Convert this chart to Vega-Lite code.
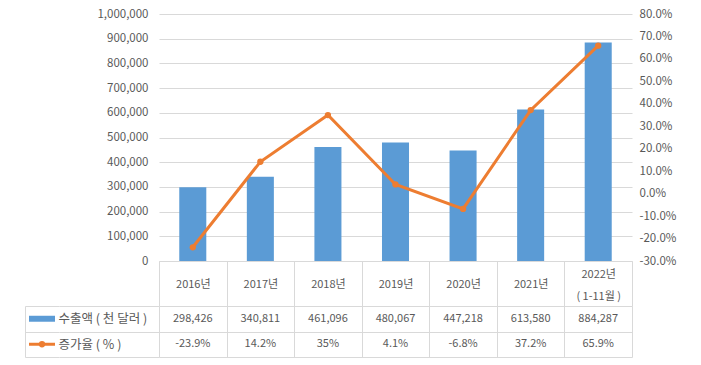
{
  "$schema": "https://vega.github.io/schema/vega-lite/v6.json",
  "padding": {"left": 23, "top": 8, "right": 5, "bottom": 5},
  "background": "white",
  "datasets": {
    "main": [
      {"year": "2016", "export": 298426, "growth": -0.239},
      {"year": "2017", "export": 340811, "growth": 0.142},
      {"year": "2018", "export": 461096, "growth": 0.35},
      {"year": "2019", "export": 480067, "growth": 0.041},
      {"year": "2020", "export": 447218, "growth": -0.068},
      {"year": "2021", "export": 613580, "growth": 0.372},
      {"year": "2022", "export": 884287, "growth": 0.659}
    ],
    "rows": [
      {"key": "export", "name": "수출액 ( 천 달러 )"},
      {"key": "growth", "name": "증가율 ( % )"}
    ]
  },
  "columns": 3,
  "bounds": "flush",
  "spacing": {"row": 45, "column": 0},
  "concat": [
    {"width": 34, "height": 247, "data": {"values": []}, "mark": "point", "encoding": {}},
    {"width": 100, "height": 247, "data": {"values": []}, "mark": "point", "encoding": {}},
    {
      "width": 473,
      "height": 247,
      "data": {"name": "main"},
      "encoding": {
        "x": {
          "field": "year", "type": "nominal", "sort": null,
          "scale": {"paddingInner": 0, "paddingOuter": 0},
          "axis": {
            "title": null, "labelAngle": 0, "tickBand": "extent", "tickSize": 45,
            "tickColor": "#d9d9d9", "domainColor": "#d9d9d9",
            "labelPadding": {"condition": {"test": "datum.value == '2022'", "value": -32}, "value": -22},
            "labelBaseline": "middle", "labelLineHeight": 22, "grid": false,
            "labelExpr": "datum.value == null ? '' : (datum.value == '2022' ? ['2022년', '( 1-11월 )'] : datum.value + '년')"
          }
        }
      },
      "layer": [
        {
          "mark": {"type": "bar", "color": "#5B9BD5", "width": {"band": 0.4}},
          "encoding": {
            "y": {
              "field": "export", "type": "quantitative",
              "scale": {"domain": [0, 1000000], "nice": false},
              "axis": {
                "title": null, "format": ",.0f", "values": [0, 100000, 200000, 300000, 400000, 500000, 600000, 700000, 800000, 900000, 1000000],
                "grid": true, "gridColor": "#d9d9d9", "domain": false, "ticks": false, "labelPadding": 11, "labelFontSize": 11.5
              }
            }
          }
        },
        {
          "mark": {"type": "line", "color": "#ED7D31", "strokeWidth": 3, "point": {"filled": true, "size": 40, "color": "#ED7D31", "opacity": 1}},
          "encoding": {
            "y": {
              "field": "growth", "type": "quantitative",
              "scale": {"domain": [-0.3, 0.8], "nice": false},
              "axis": {
                "title": null, "orient": "right", "format": ".1%",
                "values": [-0.3, -0.2, -0.1, 0, 0.1, 0.2, 0.3, 0.4, 0.5, 0.6, 0.7, 0.8],
                "grid": false, "domain": false, "ticks": false, "labelPadding": 7, "labelFontSize": 11.5
              }
            }
          }
        }
      ],
      "resolve": {"scale": {"y": "independent"}}
    },
    {
      "width": 34,
      "height": 51,
      "data": {"name": "rows"},
      "encoding": {
        "y": {
          "field": "key", "type": "nominal", "sort": null,
          "scale": {"domain": ["export", "growth"], "paddingInner": 0, "paddingOuter": 0},
          "axis": {"title": null, "labels": false, "ticks": false, "domain": true, "domainColor": "#d9d9d9", "grid": true, "gridColor": "#d9d9d9", "tickBand": "extent"}
        }
      },
      "layer": [
        {
          "transform": [{"filter": "datum.key == 'export'"}],
          "mark": {"type": "point", "shape": "M-1,-0.23L1,-0.23L1,0.23L-1,0.23Z", "size": 676, "filled": true, "color": "#5B9BD5", "opacity": 1}
        },
        {
          "transform": [{"filter": "datum.key == 'growth'"}],
          "mark": {"type": "point", "shape": "M-1,0L1,0", "size": 676, "filled": false, "color": "#ED7D31", "strokeWidth": 3, "opacity": 1}
        },
        {
          "transform": [{"filter": "datum.key == 'growth'"}],
          "mark": {"type": "point", "shape": "circle", "size": 40, "filled": true, "color": "#ED7D31", "opacity": 1}
        }
      ]
    },
    {
      "width": 100,
      "height": 51,
      "data": {"name": "rows"},
      "mark": {"type": "point", "opacity": 0},
      "encoding": {
        "y": {
          "field": "name", "type": "nominal", "sort": null,
          "scale": {"paddingInner": 0, "paddingOuter": 0},
          "axis": {"title": null, "ticks": false, "domain": false, "grid": true, "gridColor": "#d9d9d9", "tickBand": "extent", "labelAlign": "left", "labelPadding": 1, "labelFontSize": 12.5}
        }
      }
    },
    {
      "width": 473,
      "height": 51,
      "data": {"name": "main"},
      "transform": [{"fold": ["export", "growth"], "as": ["key", "value"]}],
      "encoding": {
        "x": {
          "field": "year", "type": "nominal", "sort": null,
          "scale": {"paddingInner": 0, "paddingOuter": 0},
          "axis": {"title": null, "labels": false, "ticks": false, "domain": false, "grid": true, "gridColor": "#d9d9d9", "tickBand": "extent"}
        },
        "y": {
          "field": "key", "type": "nominal", "sort": null,
          "scale": {"domain": ["export", "growth"], "paddingInner": 0, "paddingOuter": 0},
          "axis": {"title": null, "labels": false, "ticks": false, "domain": false, "grid": true, "gridColor": "#d9d9d9", "tickBand": "extent"}
        }
      },
      "layer": [
        {
          "transform": [{"filter": "datum.key == 'export'"}],
          "mark": {"type": "text", "baseline": "middle"},
          "encoding": {"text": {"field": "value", "type": "quantitative", "format": ","}}
        },
        {
          "transform": [{"filter": "datum.key == 'growth'"}],
          "mark": {"type": "text", "baseline": "middle"},
          "encoding": {"text": {"field": "value", "type": "quantitative", "format": ".1~%"}}
        }
      ]
    }
  ],
  "config": {
    "font": "Noto Sans CJK KR",
    "view": {"stroke": null},
    "locale": {"number": {"decimal": ".", "thousands": ",", "grouping": [3], "currency": ["$", ""], "minus": "-"}},
    "axis": {"labelFont": "Noto Sans CJK KR", "labelFontSize": 11, "labelColor": "#595959"},
    "text": {"font": "Noto Sans CJK KR", "fontSize": 11, "color": "#595959"}
  }
}
